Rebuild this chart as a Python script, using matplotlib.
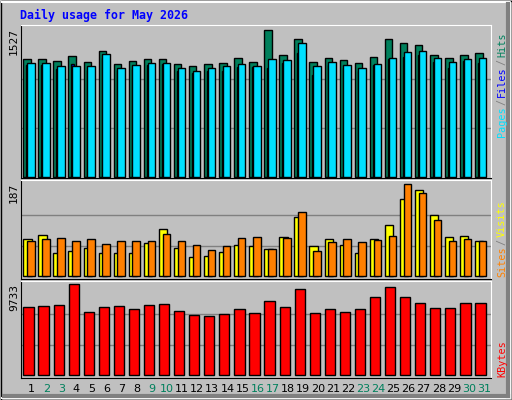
import matplotlib
matplotlib.use("Agg")
import matplotlib.pyplot as plt
import numpy as np
from matplotlib.patches import Rectangle

days = np.arange(1, 32)
weekend = [2, 3, 9, 10, 16, 17, 23, 24, 30, 31]
hits = [1226, 1226, 1206, 1258, 1195, 1309, 1175, 1206, 1226, 1226, 1175, 1154, 1175, 1185, 1237, 1195,
        1527, 1268, 1434, 1195, 1237, 1216, 1185, 1247, 1434, 1392, 1372, 1268, 1237, 1268, 1289]
files = [1185, 1185, 1154, 1154, 1154, 1278, 1133, 1164, 1185, 1185, 1133, 1102, 1133, 1154, 1175, 1154,
         1226, 1216, 1392, 1154, 1195, 1164, 1133, 1175, 1237, 1299, 1309, 1237, 1195, 1226, 1237]
pages = [1164, 1164, 1123, 1175, 1112, 1237, 1112, 1123, 1164, 1175, 1102, 1081, 1102, 1102, 1144, 1144,
         1133, 1185, 1289, 1061, 1164, 1133, 1102, 1164, 1226, 1247, 1268, 1195, 1133, 1206, 1185]
sites = [75, 85, 47, 51, 57, 47, 47, 47, 67, 96, 57, 39, 41, 49, 63, 61,
         55, 81, 120, 61, 75, 63, 47, 75, 104, 157, 175, 124, 79, 83, 71]
visits = [71, 75, 77, 71, 75, 65, 71, 71, 71, 87, 71, 63, 53, 61, 77, 79,
          55, 77, 130, 51, 69, 75, 69, 73, 83, 187, 169, 114, 71, 75, 71]
kbytes = [7246, 7353, 7459, 9733, 6713, 7246, 7353, 7033, 7459, 7566, 6820, 6394, 6287, 6500, 7033, 6607,
          7885, 7246, 9164, 6607, 7033, 6713, 7033, 8312, 9378, 8312, 7672, 7140, 7140, 7672, 7672]

BG = "#c0c0c0"
C_HITS, C_FILES, C_PAGES = "#00805c", "#00e0ff", "#0000ff"
C_SITES, C_VISITS, C_KB = "#ffff00", "#ff8000", "#ff0000"
MONO = "DejaVu Sans Mono"

W, H = 512, 400
fig = plt.figure(figsize=(W / 100, H / 100), dpi=100, facecolor=BG)


def px_axes(x0, y0, x1, y1):
    return fig.add_axes([x0 / W, 1 - y1 / H, (x1 - x0) / W, (y1 - y0) / H])


# outer bevel frame
frame = fig.add_axes([0, 0, 1, 1], zorder=-5)
frame.set_axis_off()
frame.set_xlim(0, W)
frame.set_ylim(H, 0)
frame.add_patch(Rectangle((0.5, 0.5), W - 1, H - 1, fill=False, ec="black", lw=1))
frame.plot([1.5, W - 2, W - 2, 1.5], [1.5, 1.5, H - 2, H - 2], color="white", lw=1.5)
frame.plot([W - 4, W - 4], [4, H - 4], color="#808080", lw=3)
frame.plot([4, W - 4], [H - 4, H - 4], color="#808080", lw=3)


def style(ax, ymax, lo, hi):
    ax.set_facecolor(BG)
    ax.set_xlim(0.55, 31.75)
    ax.set_ylim(lo, hi)
    for t in (ymax / 3, 2 * ymax / 3):
        ax.axhline(t, color="#808080", lw=1, zorder=0)
    ax.set_xticks([])
    ax.set_yticks([])
    for s in ax.spines.values():
        s.set_color("black")
    ax.spines["top"].set_color("white")
    ax.spines["right"].set_color("white")


ax1 = px_axes(21, 25, 491, 178)
style(ax1, 1527, -7, 1527 * 1.035)
ax1.bar(days - 0.3, hits, width=0.5, align="edge", color=C_HITS, ec="black", lw=1)
ax1.bar(days - 0.1, pages, width=0.2, align="edge", color=C_PAGES, ec="black", lw=1)
ax1.bar(days - 0.05, files, width=0.5, align="edge", color=C_FILES, ec="black", lw=1)

ax2 = px_axes(21, 180, 491, 279)
style(ax2, 187, -5.5, 196)
ax2.bar(days - 0.3, sites, width=0.55, align="edge", color=C_SITES, ec="black", lw=1)
ax2.bar(days - 0.05, visits, width=0.5, align="edge", color=C_VISITS, ec="black", lw=1)

ax3 = px_axes(21, 281, 491, 378)
style(ax3, 9733, -288, 10054)
ax3.bar(days + 0.05, kbytes, width=0.68, color=C_KB, ec="black", lw=1)

for d in days:
    fig.text((28.6 + (d - 1) * 15.1 + 2.5) / W, 1 - 389 / H, str(d), ha="center", va="center",
             fontsize=8, color=C_HITS if d in weekend else "black")

fig.text(20 / W, 1 - 15 / H, "Daily usage for May 2026", family=MONO, fontweight="bold",
         fontsize=8.4, color="#0000ff", va="center")

for y, lab in [(28, "1527"), (183, "187"), (284, "9733")]:
    fig.text(14 / W, 1 - y / H, lab, rotation=90, ha="center", va="top", fontsize=8, family=MONO)


def side(parts, y_bottom):
    y = y_bottom
    for txt, col in parts:
        fig.text(502 / W, 1 - y / H, txt, rotation=90, ha="center", va="bottom",
                 fontsize=7.3, family=MONO, color=col)
        y -= len(txt) * 6 + 2


side([("Pages", C_FILES), ("/", "#808080"), ("Files", C_PAGES), ("/", "#808080"), ("Hits", C_HITS)], 137)
side([("Sites", C_VISITS), ("/", "#808080"), ("Visits", C_SITES)], 277)
side([("KBytes", C_KB)], 377)

fig.savefig("out.png", dpi=100, facecolor=BG)
